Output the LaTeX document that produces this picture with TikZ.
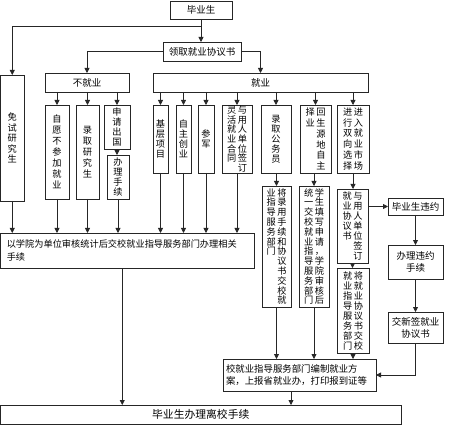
\documentclass[tikz,border=0pt]{standalone}
\usepackage{fontspec}
\setmainfont{Noto Sans CJK SC}
\usetikzlibrary{arrows.meta,calc}
\ExplSyntaxOn
\NewDocumentCommand\vc{O{10pt}m}{
  \vtop{ \baselineskip=#1 \lineskiplimit=-\maxdimen \lineskip=0pt
    \tl_map_inline:nn {#2} { \hbox{##1} } }
}
\ExplSyntaxOff
% \bx[style]{x1}{y1}{x2}{y2}{name}{text}
\newcommand\bx[7][box]{\node[#1, anchor=north west, minimum width={#4-#2}, minimum height={#5-#3}] (#6) at (#2,#3) {#7};}
\begin{document}
\begin{tikzpicture}[x=1pt,y=-1pt,
  base/.style={draw=black!85, line width=0.8pt, inner sep=0pt, outer sep=0pt},
  box/.style={base, font=\fontsize{9.5}{12}\selectfont, align=center},
  lbox/.style={base, align=left},
  vbox/.style={base, font=\fontsize{9.2}{10}\selectfont},
  arr/.style={draw=black!85, line width=0.8pt, -{Triangle[length=5pt,width=5pt]}}]
\useasboundingbox (0,0) rectangle (454,435);
% boxes
\bx{170}{1}{232}{19}{grad}{毕业生}
\bx{163}{42}{241}{61}{lingqu}{领取就业协议书}
\bx{45}{73}{129}{92}{buj}{不就业}
\bx{153}{73}{368}{92}{jiuye}{就业}
\bx[vbox]{0.5}{75}{24}{201}{mianshi}{\vc[10.5pt]{免试研究生}}
\bx[vbox]{45}{105}{69}{199}{ziyuan}{\vc[11pt]{自愿不参加就业}}
\bx[vbox]{76}{105}{99}{199}{luqu}{\vc[11pt]{录取研究生}}
\bx[vbox]{104}{105}{130}{149}{chuguo}{\vc{申请出国}}
\bx[vbox]{107}{155}{129}{199}{banli}{\vc{办理手续}}
\bx[vbox]{153}{105}{168}{173}{jiceng}{\vc{基层项目}}
\bx[vbox]{176}{105}{191}{173}{zizhu}{\vc{自主创业}}
\bx[vbox]{198}{105}{214}{173}{canjun}{\vc{参军}}
\bx[vbox]{222}{105}{252}{173}{linghuo}{\vc[9.6pt]{灵活就业合同}\hspace{1.5pt}\vc[9.6pt]{与用人单位签订}}
\bx[vbox]{261}{105}{291}{173}{gwy}{\raisebox{9pt}{\vc{录取公务员}}}
\bx[vbox]{300}{105}{331}{173}{hsy}{\vc[10.8pt]{择业}\hspace{1.5pt}\vc[10.8pt]{回生源地自主}}
\bx[vbox]{337}{105}{369}{173}{jinru}{\vc[10.8pt]{进行双向选择}\hspace{1.5pt}\vc[10.8pt]{进入就业市场}}
\bx[vbox]{262}{186}{291}{307}{jianglu}{\vc[9.8pt]{业指导服务部门}\hspace{1.5pt}\vc[9.8pt]{将录用手续和协议书交校就}}
\bx[vbox]{299}{186}{329}{307}{xuesheng}{\vc[9.8pt]{统一交校就业指导服务部门}\hspace{1.5pt}\vc[9.8pt]{学生填写申请，学院审核后}}
\bx[vbox]{337}{189}{368}{263}{qianding}{\vc{就业协议书}\hspace{1.5pt}\vc{与用人单位签订}}
\bx[vbox]{337}{268}{369}{353}{jiangjy}{\vc{就业指导服务部门}\hspace{1.5pt}\vc{将就业协议书交校}}
\bx{388}{198}{443}{215}{weiyue}{毕业生违约}
\bx{388}{245}{443}{279}{banwy}{办理违约\\手续}
\bx{388}{312}{443}{343}{jiaoxin}{交新签就业\\协议书}
\bx[lbox, text width=241pt, font=\fontsize{9.2}{13}\selectfont]{0.5}{233}{254}{268}{xueyuan}{以学院为单位审核统计后交校就业指导服务部门办理相关\\手续}
\bx[lbox, text width=147pt, font=\fontsize{9.4}{12}\selectfont]{223}{359}{376}{391}{xiao}{校就业指导服务部门编制就业方\\案，上报省就业办，打印报到证等}
\bx[box, font=\fontsize{10.8}{13}\selectfont]{0.5}{405}{401}{424}{lixiao}{毕业生办理离校手续}
% connectors
\draw[arr] (grad.south) -- (grad.south |- lingqu.north);
\coordinate (t1) at ($(grad.south)+(0,7)$);
\draw[arr] (t1) -| (mianshi.north);
\draw[arr] (lingqu.west) -| (buj.north);
\draw[arr] (lingqu.east) -| (jiuye.north);
\foreach \n in {ziyuan,luqu,chuguo}
  \draw[arr] (buj.south -| \n.north) -- (\n.north);
\draw[arr] (chuguo.south) -- (chuguo.south |- banli.north);
\foreach \n in {jiceng,zizhu,canjun,linghuo,gwy,hsy,jinru}
  \draw[arr] (jiuye.south -| \n.north) -- (\n.north);
\draw[arr] (jianglu.north |- gwy.south) -- (jianglu.north);
\draw[arr] (xuesheng.north |- hsy.south) -- (xuesheng.north);
\draw[arr] (jinru.south) -- (jinru.south |- qianding.north);
\draw[arr] (qianding.south) -- (qianding.south |- jiangjy.north);
\draw[arr] (weiyue.west -| qianding.east) -- (weiyue.west);
\draw[arr] (weiyue.south) -- (banwy.north);
\draw[arr] (banwy.south) -- (jiaoxin.north);
\draw[arr] (jiaoxin.south) |- (xiao.east);
\foreach \n in {mianshi,ziyuan,luqu,banli,jiceng,zizhu,canjun,linghuo}
  \draw[arr] (\n.south) -- (\n.south |- xueyuan.north);
\foreach \n in {jianglu,xuesheng,jiangjy}
  \draw[arr] (\n.south) -- (\n.south |- xiao.north);
\coordinate (b1) at ($(xueyuan.south)+(-5,0)$);
\draw[arr] (b1) -- (b1 |- lixiao.north);
\coordinate (b2) at ($(xiao.south)+(-8.5,0)$);
\draw[arr] (b2) -- (b2 |- lixiao.north);
\end{tikzpicture}
\end{document}
